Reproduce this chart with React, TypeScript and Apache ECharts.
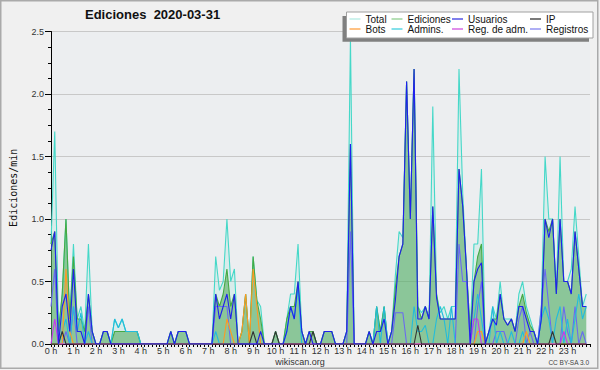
import React, { useEffect, useRef } from 'react';
import * as echarts from 'echarts';

// 10-minute steps, 6 values per hour (rows = hours 0..23)
const totalVals = [
  .8,1.7,.1,.4,1.0,.2,
  .8,.2,.3,.1,.8,.1,
  0,0,.1,.1,0,.2,
  .13,.2,.1,.1,.1,.1,
  0,0,0,0,0,0,
  0,0,.1,0,.1,.1,
  .1,0,0,0,0,0,
  0,0,.7,.43,.5,1.0,
  .5,.6,0,.1,.4,0,
  .7,.35,.3,0,0,0,
  .1,0,0,.2,.4,.4,
  .8,.1,0,.1,.1,0,
  0,.1,.1,.1,0,0,
  0,.1,2.45,0,0,0,
  0,.1,0,.3,.1,.3,
  0,.1,.55,.9,.85,2.1,
  1.0,2.2,.3,.25,.3,.2,
  1.9,.4,.25,.3,.2,.3,
  .3,2.2,1.2,.6,.1,.8,
  .8,1.4,0,.1,.3,.2,
  .5,.2,.2,.2,.1,.4,
  .5,.3,.2,.1,0,.3,
  1.5,1.0,1.0,.4,1.5,.5,
  .5,.6,1.1,.7,.3,.4,
];
const edicionesVals = [
  .8,.9,.1,.4,1.0,.2,
  .7,.2,.2,.1,.4,.1,
  0,0,.1,.1,0,.1,
  .1,.1,.1,.1,.1,.1,
  0,0,0,0,0,0,
  0,0,.1,0,.1,.1,
  .1,0,0,0,0,0,
  0,0,.4,.3,.4,.6,
  .3,.4,0,.1,.4,0,
  .7,.35,.2,0,0,0,
  .1,0,0,.2,.3,.3,
  .5,.1,0,.1,.1,0,
  0,.1,.1,.1,0,0,
  0,.1,1.6,0,0,0,
  0,.1,0,.3,.1,.3,
  0,.1,.45,.7,.8,2.1,
  1.0,2.2,.3,.2,.3,.2,
  1.1,.4,.2,.2,.2,.2,
  .2,1.4,1.1,.6,.1,.5,
  .7,.8,0,.1,.2,.2,
  .4,.2,.15,.2,.1,.3,
  .4,.25,.15,.1,0,.2,
  1.0,.9,1.0,.4,1.0,.5,
  .5,.4,.9,.6,.3,.3,
];
const usuariosVals = [
  .75,.9,0,.3,.4,.1,
  .6,.1,.1,0,.4,.1,
  0,0,.1,.1,0,0,
  0,0,0,0,0,0,
  0,0,0,0,0,0,
  0,0,.1,0,.1,.1,
  .1,0,0,0,0,0,
  0,0,.4,.2,.3,.4,
  .2,.4,0,0,0,0,
  0,0,.1,0,0,0,
  0,0,0,.1,.3,.2,
  .5,.1,0,.1,0,0,
  0,.1,.1,.1,0,0,
  0,.1,1.6,0,0,0,
  0,.1,0,.1,.1,.2,
  0,.1,.35,.7,.8,2.1,
  1.0,2.2,.2,.2,.3,.2,
  1.1,.37,.2,.2,.2,.2,
  .2,1.4,1.1,.6,0,.5,
  .6,.65,0,.1,.2,.15,
  .4,.2,.15,.2,.1,.3,
  .3,.2,.1,.1,0,.2,
  1.0,.85,1.0,.4,1.0,.5,
  .5,.4,.9,.6,.3,.3,
];
const ipVals = [
  0,0,0,.1,0,0,
  0,0,0,0,0,0,
  0,0,0,0,0,0,
  0,0,0,0,0,0,
  0,0,0,0,0,0,
  0,0,0,0,0,0,
  0,0,0,0,0,0,
  0,0,0,0,0,0,
  0,0,0,0,0,0,
  .1,0,0,0,0,0,
  .1,0,0,0,0,0,
  0,0,0,0,.1,0,
  0,0,0,0,0,0,
  0,0,0,0,0,0,
  0,0,0,0,0,0,
  0,0,0,0,0,0,
  0,0,.15,0,0,0,
  0,0,0,0,0,0,
  0,0,0,0,0,0,
  0,0,0,0,0,0,
  0,0,0,0,0,0,
  0,0,0,0,0,0,
  0,0,.1,0,0,0,
  0,0,0,0,0,0,
];
const botsVals = [
  0,0,0,0,.6,.1,
  0,0,0,0,0,0,
  0,0,0,0,0,0,
  0,0,0,0,0,0,
  0,0,0,0,0,0,
  0,0,0,0,0,0,
  0,0,0,0,0,0,
  0,0,0,0,0,.2,
  .1,0,0,.1,.4,0,
  .6,.3,0,0,0,0,
  0,0,0,0,0,0,
  0,0,0,0,0,0,
  0,0,0,0,0,0,
  0,0,0,0,0,0,
  0,0,0,0,0,0,
  0,0,0,0,0,0,
  0,0,0,0,0,0,
  0,0,0,0,0,0,
  0,0,0,0,0,0,
  .1,.1,0,0,0,0,
  0,0,0,0,0,0,
  0,.1,0,0,0,0,
  0,0,0,0,0,0,
  0,0,0,0,0,0,
];
const adminsVals = [
  0,0,0,.1,.2,0,
  .3,.1,.25,0,.1,0,
  0,0,0,0,0,.2,
  .13,.2,.1,.1,.1,.1,
  0,0,0,0,0,0,
  0,0,0,0,0,0,
  0,0,0,0,0,0,
  0,0,.1,0,0,0,
  0,0,0,0,0,0,
  0,0,0,0,0,0,
  0,0,0,.1,.3,.2,
  .45,0,0,0,0,0,
  0,0,0,0,0,0,
  0,0,0,0,0,0,
  0,0,0,.3,0,.3,
  0,0,0,0,0,0,
  0,.3,.1,.1,.15,0,
  0,.2,.3,.2,0,.3,
  0,0,0,0,0,.2,
  .4,.2,0,0,.3,0,
  .1,0,0,.1,0,0,
  .1,0,0,0,0,.2,
  .3,.2,0,.2,.3,0,
  .2,0,.2,.4,.2,.3,
];
const regAdmVals = [
  0,.2,0,0,0,0,
  0,0,0,0,0,0,
  0,0,0,0,0,0,
  0,0,0,0,0,0,
  0,0,0,0,0,0,
  0,0,0,0,0,0,
  0,0,0,0,0,0,
  0,0,0,0,0,0,
  0,0,0,0,0,0,
  0,0,0,0,0,0,
  0,0,0,0,0,0,
  0,0,0,0,0,0,
  0,0,0,0,0,0,
  0,0,0,0,0,0,
  0,0,0,0,0,0,
  0,0,0,0,0,0,
  0,0,0,0,0,0,
  0,0,0,0,0,0,
  0,0,0,0,0,.2,
  .2,0,0,0,0,0,
  0,0,0,0,0,0,
  0,0,0,0,0,0,
  0,0,0,0,0,.1,
  0,0,0,0,0,0,
];
const registrosVals = [
  .3,.6,0,0,.1,0,
  .3,0,0,0,.3,0,
  0,0,0,0,0,0,
  0,0,0,0,0,0,
  0,0,0,0,0,0,
  0,0,0,0,0,0,
  0,0,0,0,0,0,
  0,0,.3,.3,.3,.3,
  0,0,0,0,0,0,
  0,0,0,0,0,0,
  0,0,0,0,0,0,
  0,0,0,0,0,0,
  0,0,0,0,0,0,
  0,0,.9,0,0,0,
  0,0,0,0,0,0,
  0,0,.25,.25,.25,0,
  0,0,0,0,0,0,
  0,0,0,0,0,0,
  0,.8,.5,.5,0,0,
  .3,.5,0,0,0,.1,
  .1,.1,0,0,0,.2,
  .3,0,.1,0,0,.3,
  .6,.3,0,0,0,.3,
  .1,0,.3,0,.1,0,
];

const hourOf = (i: number) => i / 6;

const legendColumns = [
  ['Total', 'Bots'],
  ['Ediciones', 'Admins.'],
  ['Usuarios', 'Reg. de adm.'],
  ['IP', 'Registros'],
];
const legendLefts = [349.5, 391.5, 452, 530];

type Def = { name: string; vals: number[]; color: string; legendColor: string; area?: string };
const defs: Def[] = [
  { name: 'Total', vals: totalVals, color: '#45d8c8', legendColor: '#aee9e2', area: 'rgba(120,228,214,0.16)' },
  { name: 'Ediciones', vals: edicionesVals, color: '#44aa44', legendColor: '#88cc88', area: 'rgba(78,168,90,0.56)' },
  { name: 'Registros', vals: registrosVals, color: '#6a6af0', legendColor: '#7a7aee' },
  { name: 'Admins.', vals: adminsVals, color: '#22bcdc', legendColor: '#33ccdd' },
  { name: 'Bots', vals: botsVals, color: '#ff9922', legendColor: '#ff9933' },
  { name: 'Reg. de adm.', vals: regAdmVals, color: '#cc33ee', legendColor: '#cc44dd' },
  { name: 'IP', vals: ipVals, color: '#333333', legendColor: '#222222' },
  { name: 'Usuarios', vals: usuariosVals, color: '#2020ee', legendColor: '#2a2ae0' },
];

export default function App() {
  const ref = useRef<HTMLDivElement>(null);
  useEffect(() => {
    document.body.style.margin = '0';
    const chart = echarts.init(ref.current!, undefined, { renderer: 'svg' });
    const colorOf: Record<string, string> = {};
    defs.forEach((d) => (colorOf[d.name] = d.legendColor));
    const font = '"Liberation Sans", Arial, sans-serif';
    chart.setOption({
      animation: false,
      backgroundColor: '#f0f0f0',
      title: {
        text: 'Ediciones  2020-03-31',
        left: 85,
        top: 8,
        padding: 0,
        textStyle: { fontFamily: font, fontSize: 13, fontWeight: 'bold', color: '#111' },
      },
      grid: {
        left: 46, right: 10, top: 31.5, bottom: 26,
        show: true, backgroundColor: '#eceef0', borderWidth: 0,
      },
      legend: legendColumns.map((col, k) => ({
        left: legendLefts[k],
        top: 14,
        orient: 'vertical',
        padding: 0,
        itemGap: 0,
        itemWidth: 11,
        itemHeight: 10,
        icon: 'path://M0,4.4 L11,4.4 L11,5.6 L0,5.6 Z',
        selectedMode: false,
        textStyle: { fontFamily: font, fontSize: 10, color: '#111', lineHeight: 10 },
        data: col.map((n) => ({ name: n, itemStyle: { color: colorOf[n], borderWidth: 0 } })),
      })),
      xAxis: {
        type: 'value', min: 0, max: 24, interval: 1,
        axisLine: { lineStyle: { color: '#000', width: 1 } },
        axisTick: { length: 3, lineStyle: { color: '#000' } },
        minorTick: { show: true, splitNumber: 6, length: 3, lineStyle: { color: '#000' } },
        splitLine: { show: false },
        axisLabel: {
          formatter: (v: number) => v + ' h', showMaxLabel: false,
          fontFamily: font, fontSize: 9, color: '#333', margin: 2,
        },
      },
      yAxis: {
        type: 'value', min: 0, max: 2.5, interval: 0.5,
        name: 'Ediciones/min', nameLocation: 'middle', nameGap: 33,
        nameTextStyle: { fontFamily: '"DejaVu Sans Mono", monospace', fontSize: 10, color: '#111' },
        axisLine: { show: true, lineStyle: { color: '#000', width: 1 } },
        axisTick: { show: true, length: 6, lineStyle: { color: '#000' } },
        minorTick: { show: true, splitNumber: 4, length: 3, lineStyle: { color: '#000' } },
        splitLine: { lineStyle: { color: '#c8c8c8', width: 1 } },
        axisLabel: {
          formatter: (v: number) => v.toFixed(1),
          fontFamily: font, fontSize: 9, color: '#333', margin: 7,
        },
      },
      graphic: [
        { type: 'rect', z: 3, shape: { x: 342.5, y: 16, width: 246.5, height: 25.7 }, style: { fill: '#808080' } },
        { type: 'rect', z: 3, shape: { x: 346.5, y: 12, width: 246.5, height: 26 }, style: { fill: '#ffffff', stroke: '#a0a0a0', lineWidth: 1 } },
        { type: 'text', z: 3, style: { text: 'wikiscan.org', x: 300, y: 361.5, align: 'center', verticalAlign: 'middle', font: '9px ' + font, fill: '#333' } },
        { type: 'text', z: 3, style: { text: 'CC BY-SA 3.0', x: 589, y: 362.5, align: 'right', verticalAlign: 'middle', font: '6.5px ' + font, fill: '#444' } },
        { type: 'rect', z: 3, shape: { x: 0.75, y: 0.75, width: 597, height: 367.5 }, style: { fill: 'none', stroke: '#aaaaaa', lineWidth: 1.5 } },
      ],
      series: defs.map((d) => ({
        type: 'line',
        name: d.name,
        symbol: 'none',
        data: d.vals.map((v, i) => [hourOf(i), v]),
        lineStyle: { color: d.color, width: 1.1 },
        itemStyle: { color: d.color },
        areaStyle: d.area ? { color: d.area, opacity: 1 } : undefined,
        z: 2,
      })),
    });
    return () => chart.dispose();
  }, []);
  return <div ref={ref} style={{ width: 600, height: 370 }} />;
}
